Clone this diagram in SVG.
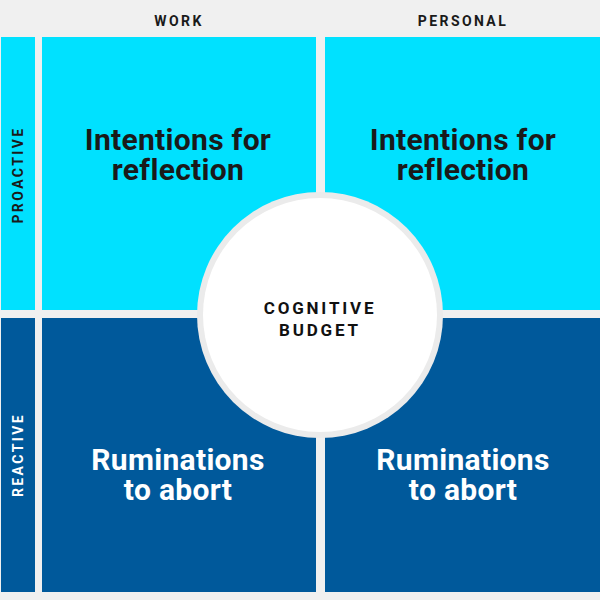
<svg xmlns="http://www.w3.org/2000/svg" width="600" height="600" viewBox="0 0 600 600">
<style>
.cy{fill:#00e1ff}
.db{fill:#00599b}
.hd{font-family:"Roboto","Liberation Sans",sans-serif;font-weight:700;font-size:14px;letter-spacing:2.4px;fill:#1a1a1a;text-anchor:middle}
.big{font-family:"Roboto","Liberation Sans",sans-serif;font-weight:700;font-size:30px;letter-spacing:0.3px;text-anchor:middle}
.ctr{font-family:"Roboto","Liberation Sans",sans-serif;font-weight:700;font-size:17px;letter-spacing:2.8px;fill:#111;text-anchor:middle}
</style>
<rect width="600" height="600" fill="#f0f0f0"/>
<g id="header-work"><text class="hd" x="179" y="26">WORK</text></g>
<g id="header-personal"><text class="hd" x="463" y="26">PERSONAL</text></g>
<g id="side-proactive"><rect class="cy" x="1" y="37" width="34" height="273"/><text class="hd" transform="translate(23,175) rotate(-90)">PROACTIVE</text></g>
<g id="side-reactive"><rect class="db" x="1" y="318" width="34" height="274"/><text class="hd" transform="translate(23,455) rotate(-90)" style="fill:#fff">REACTIVE</text></g>
<g id="work-proactive"><rect class="cy" x="42" y="37" width="274" height="273"/><text class="big" x="178" y="150" fill="#1a1a1a">Intentions for<tspan x="178" dy="30">reflection</tspan></text></g>
<g id="personal-proactive"><rect class="cy" x="325" y="37" width="275" height="273"/><text class="big" x="463" y="150" fill="#1a1a1a">Intentions for<tspan x="463" dy="30">reflection</tspan></text></g>
<g id="work-reactive"><rect class="db" x="42" y="318" width="274" height="274"/><text class="big" x="178" y="470" fill="#fff">Ruminations<tspan x="178" dy="30">to abort</tspan></text></g>
<g id="personal-reactive"><rect class="db" x="325" y="318" width="275" height="274"/><text class="big" x="463" y="470" fill="#fff">Ruminations<tspan x="463" dy="30">to abort</tspan></text></g>
<g id="cognitive-budget"><circle cx="320" cy="315" r="123" fill="#ebebeb"/><circle cx="320" cy="315" r="117" fill="#fff"/><text class="ctr" x="320" y="314">COGNITIVE<tspan x="320" dy="22">BUDGET</tspan></text></g>
</svg>
